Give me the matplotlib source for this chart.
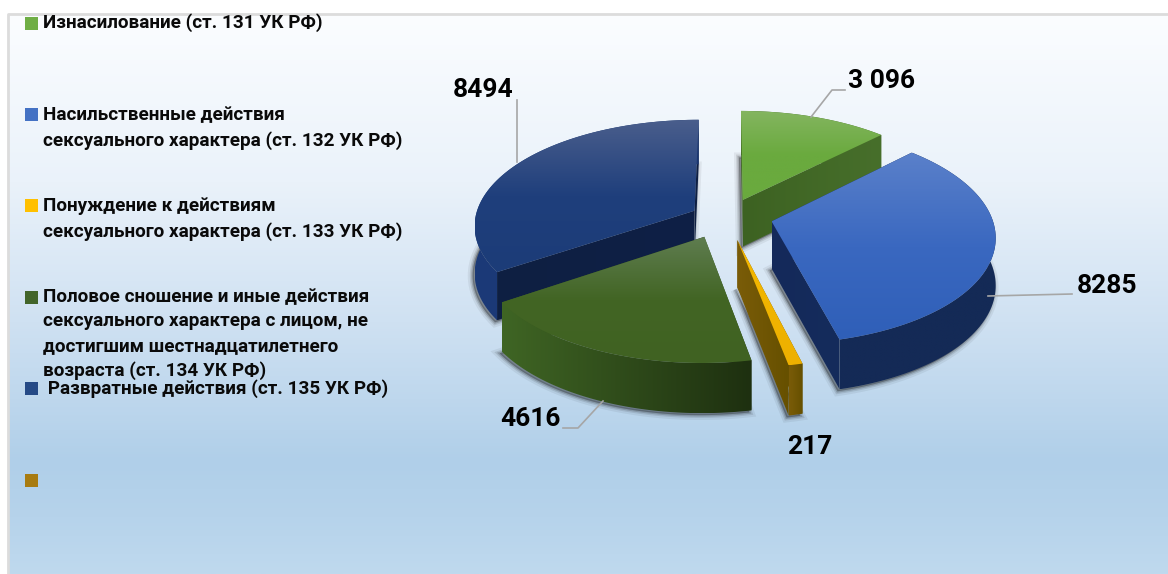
import numpy as np
import matplotlib
matplotlib.use("Agg")
import matplotlib.pyplot as plt
from matplotlib.colors import to_rgb
from matplotlib.patches import Polygon, Rectangle

# ---- data ----
categories = ["Изнасилование (ст. 131 УК РФ)",
              "Насильственные действия\nсексуального характера (ст. 132 УК РФ)",
              "Понуждение к действиям\nсексуального характера (ст. 133 УК РФ)",
              "Половое сношение и иные действия\nсексуального характера с лицом, не\nдостигшим шестнадцатилетнего\nвозраста (ст. 134 УК РФ)",
              " Развратные действия (ст. 135 УК РФ)",
              ""]
values = [3096, 8285, 217, 4616, 8494]
value_labels = ["3 096", "8285", "217", "4616", "8494"]

# ---- styles ----
explode = [0.19, 0.19, 0.21, 0.17, 0.19]
nudge_x = [-4, 0, -4, -12, 0]
nudge_y = [1, -1, 1, 3, 3]
top_cols = [("#84b560", "#6aaa3e", "#6aaa3e"), ("#5a80ca", "#3a68c0", "#2f5fb8"),
            ("#f5b800", "#f0b400", "#eeb000"), ("#5f7d50", "#426524", "#406222"),
            ("#4a5e8c", "#1f3f7c", "#1c3c78")]
arc_cols = [("#3d6222", "#476f2b"), ("#142a56", "#142a56"), ("#7a5c08", "#665000"),
            ("#3f6524", "#1e3010"), ("#1c3a78", "#1a3670")]
cut_cols = [("#3d6222", "#476f2b"), ("#14295a", "#152c5c"), ("#7a5c08", "#665000"),
            ("#3f6524", "#1e3010"), ("#0e1f42", "#0f2046")]
swatch_cols = ["#6fae45", "#4472c4", "#ffc000", "#42652a", "#254a86", "#a87b10"]
swatch_y = [17, 108, 199, 291, 382, 474]
legend_y = [22, 115, 206, 297, 388, 480]
label_xy = [(882, 81), (1107, 286), (810, 447), (530, 419), (483, 90)]
leaders = [([811, 832, 845], [117, 90, 90]), ([988, 1072], [296, 294]),
           ([563, 578, 603], [428, 428, 401]), ([517, 517], [162, 100])]
CX, CY, RX, RY, P, DEPTH = 731, 217, 220, 105, 0.13, 47

fig = plt.figure(figsize=(11.68, 5.74), dpi=100)
ax = fig.add_axes([0, 0, 1, 1])
ax.axis("off")
plt.rcParams["font.family"] = ["Roboto", "DejaVu Sans"]


def proj(X, Y, Z=0.0):
    w = 1 + P * Y
    return CX + RX * X / w, CY - RY * Y / w + Z / w ** 0.4


def grad(pts, cols, vertical=True, z=1):
    pts = np.asarray(pts)
    x0, y0 = pts.min(axis=0)
    x1, y1 = pts.max(axis=0)
    t = np.linspace(0, 1, 128)
    stops = np.linspace(0, 1, len(cols))
    rgb = np.array([to_rgb(c) for c in cols])
    arr = np.stack([np.interp(t, stops, rgb[:, i]) for i in range(3)], axis=-1)
    arr = arr[:, None, :] if vertical else arr[None, :, :]
    im = ax.imshow(arr, extent=(x0, x1, y1, y0), aspect="auto", zorder=z,
                   interpolation="bilinear")
    poly = Polygon(pts, closed=True, transform=ax.transData, fc="none", ec="none")
    ax.add_patch(poly)
    im.set_clip_path(poly)


# background
bg_stops = ["#fbfdff", "#eaf2fa", "#cfe1f2", "#b0cfe9", "#b6d3eb", "#bfd9ee"]
t = np.array([0, .3, .55, .8, .9, 1])
tt = np.linspace(0, 1, 256)
rgb = np.array([to_rgb(c) for c in bg_stops])
ax.imshow(np.stack([np.interp(tt, t, rgb[:, i]) for i in range(3)], axis=-1)[:, None, :],
          extent=(8, 1168, 574, 14), aspect="auto", zorder=0)
ax.plot([8, 8, 1168], [574, 14, 14], color="#dcdcdc", lw=2, zorder=0.5)

# pie geometry from the values
total = sum(values)
fracs = np.array(values) / total
edges = np.concatenate([[0], np.cumsum(fracs)]) * 2 * np.pi
wedges = []
for i, v in enumerate(values):
    a0, a1 = edges[i], edges[i + 1]
    mid = (a0 + a1) / 2
    ox, oy = explode[i] * np.sin(mid), explode[i] * np.cos(mid)
    aa = np.linspace(a0, a1, 80)
    wedges.append(dict(i=i, aa=aa, ox=ox, oy=oy, mid=oy + 0.5 * np.cos(mid)))

for w in sorted(wedges, key=lambda d: -d["mid"]):
    i, aa, ox, oy = w["i"], w["aa"], w["ox"], w["oy"]
    X = np.concatenate([[ox], ox + np.sin(aa)])
    Y = np.concatenate([[oy], oy + np.cos(aa)])
    tx, ty = proj(X, Y)
    bx, by = proj(X, Y, DEPTH)
    shift = np.array([nudge_x[i], nudge_y[i]])
    top = np.column_stack([tx, ty]) + shift
    bot = np.column_stack([bx, by]) + shift
    # soft shadow
    for lw, al in ((7, .06), (4, .10), (2, .16)):
        ax.add_patch(Polygon(bot + [-2, 2], closed=True, fc=(0, 0, 0, al), ec=(0, 0, 0, al),
                             lw=lw, zorder=1 + i * 0.01))
    n = len(X)
    # walls: the two cut faces, then the outer arc, then the top
    z = 2 + (max(-w["mid"], -3) + 3) * 0.5
    for a, b in ((0, 1), (0, n - 1)):
        q = np.array([top[a], top[b], bot[b], bot[a]])
        grad(q, cut_cols[i], vertical=False, z=z)
    arc = np.vstack([top[1:], bot[1:][::-1]])
    grad(arc, arc_cols[i], vertical=False, z=z + 0.01)
    grad(top, top_cols[i], vertical=True, z=z + 0.02)

# leader lines
for lx, ly in leaders:
    ax.plot(lx, ly, color="#a6a6a6", lw=1.2, zorder=6)

# data labels
for s, (x, y) in zip(value_labels, label_xy):
    ax.text(x, y, s, fontsize=19, fontweight="bold", ha="center", va="center",
            color="black", zorder=8)

# legend
for c, sy, ly, col in zip(categories, swatch_y, legend_y, swatch_cols):
    ax.add_patch(Rectangle((25, sy), 13, 12.5, fc=col, ec="none", zorder=7))
    if c:
        ax.text(43, ly - 9, c, fontsize=13.6, fontweight="bold", ha="left", va="top",
                linespacing=1.46, color="#0a0a0a", zorder=8)

ax.set_xlim(0, 1168)
ax.set_ylim(574, 0)
fig.savefig("out.png", dpi=100, facecolor="white")
